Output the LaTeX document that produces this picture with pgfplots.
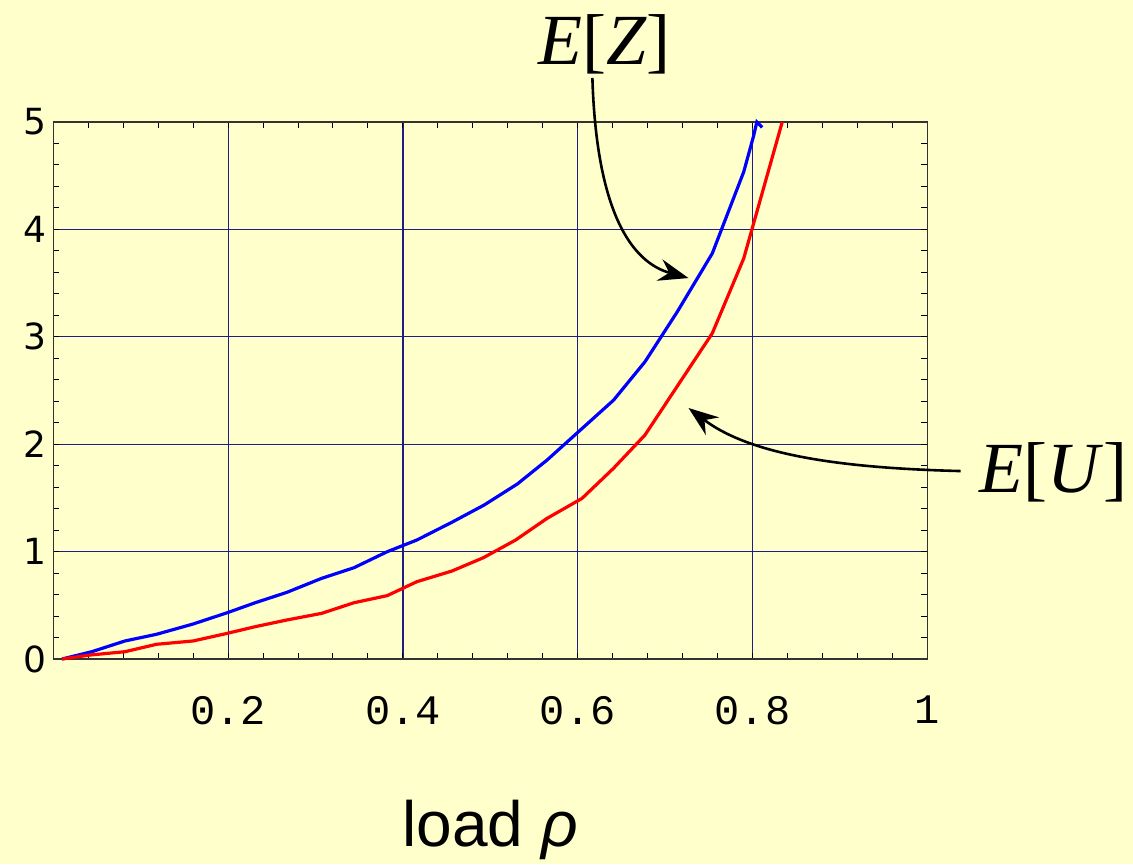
\documentclass[border=0pt]{standalone}
\usepackage{fontspec}
\setmainfont{Liberation Sans}
\newfontfamily\monofont{Liberation Mono}
\newfontfamily\dejavu{DejaVu Sans}
\newfontfamily\timesfont{Liberation Serif}
\usepackage{pgfplots}
\pgfplotsset{compat=1.18}
\usetikzlibrary{arrows.meta}
\definecolor{bgyellow}{RGB}{255,255,204}
\definecolor{gridnavy}{RGB}{30,30,130}

% E[Z] (blue) and E[U] (red) against load rho
\pgfplotstableread{
x y
0.010 0.000
0.044 0.068
0.082 0.168
0.118 0.230
0.160 0.326
0.199 0.431
0.231 0.524
0.267 0.620
0.307 0.751
0.344 0.850
0.382 0.999
0.416 1.108
0.456 1.273
0.493 1.434
0.531 1.630
0.565 1.853
0.601 2.117
0.641 2.410
0.677 2.768
0.714 3.234
0.754 3.777
0.790 4.537
0.801 4.863
0.805 5.000
0.811 4.950
}\ezdata
\pgfplotstableread{
x y
0.010 0.000
0.042 0.037
0.082 0.068
0.118 0.137
0.160 0.168
0.199 0.239
0.231 0.301
0.267 0.363
0.307 0.425
0.344 0.524
0.382 0.590
0.416 0.720
0.456 0.819
0.492 0.943
0.529 1.108
0.565 1.310
0.605 1.496
0.641 1.776
0.677 2.086
0.754 3.033
0.790 3.731
0.834 5.000
}\eudata

\begin{document}
\begin{tikzpicture}
\fill[bgyellow] (-26.65pt,-102.5pt) rectangle (539.85pt,329.5pt);
\begin{axis}[
    scale only axis,
    width=437pt, height=268.5pt,
    xmin=0, xmax=1, ymin=0, ymax=5,
    clip=false,
    axis line style={black!80, line width=0.6pt},
    xtick={0.2,0.4,0.6,0.8,1},
    ytick={0,1,2,3,4,5},
    minor xtick={0.04,0.08,...,0.98},
    minor ytick={0.2,0.4,...,4.9},
    major tick length=0pt,
    minor tick length=3pt,
    tick style={black, line width=0.5pt},
    grid=major,
    major grid style={gridnavy, line width=0.6pt},
    /pgf/number format/assume math mode=true,
    xticklabel style={font=\fontsize{21}{23}\selectfont\monofont, yshift=-15pt},
    yticklabel style={font=\fontsize{18}{20}\selectfont\dejavu},
    xlabel={load \textit{ρ}},
    xlabel style={at={(axis description cs:0.5,0)}, anchor=base, yshift=-93.5pt,
                  font=\fontsize{32}{36}\selectfont},
]
\addplot[blue, line width=1.6pt] table[x=x, y=y] {\ezdata};
\addplot[red, line width=1.6pt] table[x=x, y=y] {\eudata};

\node[anchor=base, font=\fontsize{36}{40}\selectfont\timesfont]
  at (axis cs:0.6306,5.531) {\textit{E}[\textit{Z}]};
\node[anchor=base, font=\fontsize{36}{40}\selectfont\timesfont]
  at (axis cs:1.1447,1.555) {\textit{E}[\textit{U}]};

\draw[black, line width=1.3pt, -{Stealth[length=15pt, width=11pt, inset=5pt]}]
  (axis cs:0.6168,5.410) .. controls (axis cs:0.6214,4.181) and (axis cs:0.6604,3.696)
  .. (axis cs:0.7268,3.547);
\draw[black, line width=1.3pt, -{Stealth[length=15pt, width=11pt, inset=5pt]}]
  (axis cs:1.0382,1.750) .. controls (axis cs:0.9008,1.778) and (axis cs:0.7977,1.899)
  .. (axis cs:0.7268,2.337);
\end{axis}
\pgfresetboundingbox
\path[use as bounding box] (-26.65pt,-102.5pt) rectangle (539.85pt,329.5pt);
\end{tikzpicture}
\end{document}
